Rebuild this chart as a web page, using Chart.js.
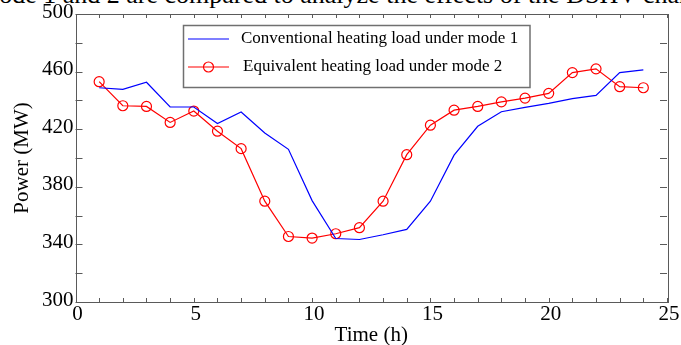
<!DOCTYPE html>
<html><head><meta charset="utf-8">
<script src="https://cdn.jsdelivr.net/npm/chart.js@4.4.1/dist/chart.umd.min.js"></script>
<style>
html,body{margin:0;padding:0;background:#fff;overflow:hidden;width:681px;height:345px;}
#wrap{position:relative;width:681px;height:345px;overflow:hidden;}
#cap{position:absolute;left:-21px;top:-18px;font:26px "Liberation Serif";white-space:nowrap;line-height:26px;color:#000;}
canvas{position:absolute;left:0;top:0;}
</style></head><body>
<div id="wrap"><div id="cap">mode 1 and 2 are compared to analyze the effects of the DSHV charging</div><canvas id="c" width="681" height="345"></canvas></div>
<script>
const hours = [1,2,3,4,5,6,7,8,9,10,11,12,13,14,15,16,17,18,19,20,21,22,23,24];
const conventional = [448.8,447.7,452.6,435.4,435.4,424.0,431.9,417.4,406.0,370.4,344.1,343.4,346.7,350.4,370.0,402.0,422.0,432.1,435.1,437.9,441.2,443.5,459.3,461.2];
const equivalent = [453.0,436.3,435.8,424.7,432.6,418.6,406.5,370.0,345.5,344.4,347.4,351.6,370.0,402.3,422.8,433.2,435.8,439.0,441.6,444.9,459.3,461.9,449.5,448.8];
const xTicks = [0,5,10,15,20,25];
const yTicks = [300,340,380,420,460,500];
const seriesLabels = ['Conventional heating load under mode 1','Equivalent heating load under mode 2'];

const FONT = 'Liberation Serif';
const AX = '#5a5a5a';
Chart.defaults.font.family = "'Liberation Serif', serif";

const boxTicks = {
  id:'boxTicks',
  afterDatasetsDraw(chart){
    const {ctx, chartArea:{left,right,top,bottom}, scales:{x,y}} = chart;
    ctx.save();
    ctx.strokeStyle = AX; ctx.lineWidth = 1;
    ctx.beginPath();
    for(let v=x.min; v<=x.max; v+=1){
      const px = Math.round(x.getPixelForValue(v))+0.5;
      ctx.moveTo(px,bottom); ctx.lineTo(px,bottom-4);
      ctx.moveTo(px,top); ctx.lineTo(px,top+4);
    }
    for(let v=y.min; v<=y.max; v+=20){
      const py = Math.round(y.getPixelForValue(v))+0.5;
      ctx.moveTo(left,py); ctx.lineTo(left+7,py);
      ctx.moveTo(right,py); ctx.lineTo(right-7,py);
    }
    ctx.stroke();
    ctx.strokeRect(Math.round(left)+0.5, Math.round(top)+0.5, Math.round(right-left), Math.round(bottom-top));
    // legend
    const bx=183.5, by=25.5, bw=346.5, bh=62;
    ctx.fillStyle='#fff'; ctx.fillRect(bx,by,bw,bh);
    ctx.strokeStyle='#707070'; ctx.lineWidth=1.5; ctx.strokeRect(bx,by,bw,bh);
    const rows=[39,67];
    chart.data.datasets.forEach((ds,i)=>{
      const yy=rows[i];
      ctx.strokeStyle=ds.borderColor; ctx.lineWidth=1.2;
      ctx.beginPath(); ctx.moveTo(188,yy); ctx.lineTo(229,yy); ctx.stroke();
      if(ds.pointRadius>0){ ctx.beginPath(); ctx.arc(208.5,yy,5,0,Math.PI*2); ctx.stroke(); }
      ctx.fillStyle='#000'; ctx.font='17px "'+FONT+'"'; ctx.textBaseline='middle'; ctx.textAlign='left';
      ctx.fillText(ds.label, i===0?241:243, yy);
    });
    ctx.restore();
  }
};

new Chart(document.getElementById('c'),{
  type:'line',
  data:{datasets:[
    {label:seriesLabels[0], data:hours.map((h,i)=>({x:h,y:conventional[i]})), borderColor:'#0000ff', borderWidth:1.2, pointRadius:0, fill:false, tension:0},
    {label:seriesLabels[1], data:hours.map((h,i)=>({x:h,y:equivalent[i]})), borderColor:'#ff0000', borderWidth:1.2, pointRadius:5, pointBorderWidth:1.2, pointBackgroundColor:'rgba(0,0,0,0)', pointBorderColor:'#ff0000', fill:false, tension:0}
  ]},
  options:{
    responsive:false, animation:false, devicePixelRatio:1,
    layout:{padding:{left:0,right:14,top:14,bottom:0}},
    plugins:{legend:{display:false}, tooltip:{enabled:false}},
    scales:{
      x:{type:'linear', min:0, max:25, position:'bottom',
        afterBuildTicks(s){ s.ticks = xTicks.map(v=>({value:v})); },
        afterFit(s){ s.height=43; },
        grid:{display:false, drawTicks:false, tickLength:0}, border:{display:false},
        ticks:{font:{family:FONT,size:21,lineHeight:1}, color:'#000', padding:2, maxRotation:0, autoSkip:false, labelOffset:2},
        title:{display:true, text:'Time (h)', font:{family:FONT,size:21,lineHeight:1}, color:'#000', padding:{top:0,bottom:-1}}
      },
      y:{type:'linear', min:300, max:500,
        afterBuildTicks(s){ s.ticks = yTicks.map(v=>({value:v})); },
        afterFit(s){ s.width=75.5; },
        grid:{display:false, drawTicks:false, tickLength:0}, border:{display:false},
        ticks:{font:{family:FONT,size:21,lineHeight:1}, color:'#000', padding:2, autoSkip:false, labelOffset:-2},
        title:{display:true, text:'Power (MW)', font:{family:FONT,size:21,lineHeight:1}, color:'#000', padding:{top:12,bottom:0}}
      }
    }
  },
  plugins:[boxTicks]
});
</script>
</body></html>
